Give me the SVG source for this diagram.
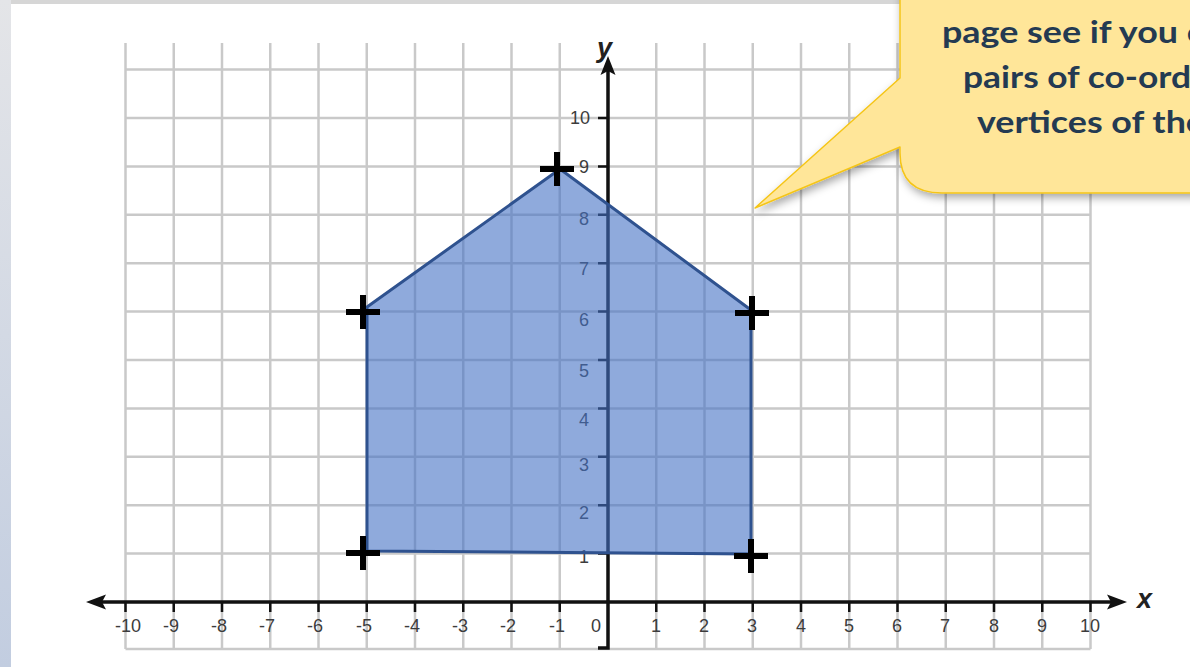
<svg xmlns="http://www.w3.org/2000/svg" width="1190" height="667" viewBox="0 0 1190 667">
<defs>
<style>
.grid{stroke:#c9c9c9;stroke-width:2.5;fill:none}
.axis{stroke:#111;stroke-width:3.5;fill:none}
.tick{stroke:#111;stroke-width:2.5}
.lbl{font-family:"Liberation Sans",Arial,sans-serif;font-size:18px;fill:#3c3c3c}
.ax{font-family:"Liberation Sans",Arial,sans-serif;font-size:27px;font-style:italic;font-weight:bold;fill:#222}
.cross{stroke:#000;stroke-width:6;fill:none}
.call{font-family:Lato,"Open Sans",sans-serif;font-weight:bold;font-size:31px;fill:#243a52}
</style>
<linearGradient id="strip" x1="0" y1="0" x2="0" y2="1">
<stop offset="0" stop-color="#e4e5e8"/>
<stop offset="1" stop-color="#c2cde0"/>
</linearGradient>
<filter id="sh" x="-20%" y="-20%" width="140%" height="150%">
<feDropShadow dx="2" dy="4" stdDeviation="4" flood-color="#000" flood-opacity="0.35"/>
</filter>
</defs>
<rect width="1190" height="667" fill="#fff"/>
<rect x="0" y="0" width="1190" height="4" fill="#d6d6d6"/>
<rect x="0" y="0" width="11" height="667" fill="url(#strip)"/>

<g id="grid">
<path class="grid" d="M125.5,43V649M173.75,43V649M222,43V649M270.25,43V649M318.5,43V649M366.75,43V649M415,43V649M463.25,43V649M511.5,43V649M559.75,43V649M656.25,43V649M704.5,43V649M752.75,43V649M801,43V649M849.25,43V649M897.5,43V649M945.75,43V649M994,43V649M1042.25,43V649M1090.5,43V649"/>
<path class="grid" d="M125.5,69.6H1090.5M125.5,118H1090.5M125.5,166.4H1090.5M125.5,214.8H1090.5M125.5,263.2H1090.5M125.5,311.6H1090.5M125.5,360H1090.5M125.5,408.4H1090.5M125.5,456.8H1090.5M125.5,505.2H1090.5M125.5,553.6H1090.5M125.5,649H1090.5"/>
</g>

<g id="labels">
<g class="lbl" text-anchor="end">
<text x="141" y="632">-10</text>
<text x="179" y="632">-9</text>
<text x="227" y="632">-8</text>
<text x="275" y="632">-7</text>
<text x="323" y="632">-6</text>
<text x="372" y="632">-5</text>
<text x="420" y="632">-4</text>
<text x="468" y="632">-3</text>
<text x="516" y="632">-2</text>
<text x="565" y="632">-1</text>
</g>
<g class="lbl" text-anchor="middle">
<text x="596" y="632">0</text>
<text x="656" y="632">1</text>
<text x="704" y="632">2</text>
<text x="752" y="632">3</text>
<text x="801" y="632">4</text>
<text x="849" y="632">5</text>
<text x="897" y="632">6</text>
<text x="945" y="632">7</text>
<text x="994" y="632">8</text>
<text x="1042" y="632">9</text>
<text x="1090" y="632">10</text>
</g>
<g class="lbl" text-anchor="end">
<text x="590" y="124">10</text>
<text x="589" y="173">9</text>
<text x="589" y="225">8</text>
<text x="589" y="275">7</text>
<text x="589" y="326">6</text>
<text x="589" y="377">5</text>
<text x="589" y="426">4</text>
<text x="589" y="471">3</text>
<text x="589" y="519">2</text>
<text x="589" y="563">1</text>
</g>
<text class="ax" x="597" y="57">y</text>
<text class="ax" x="1137" y="608">x</text>
</g>

<g id="connectors">
<path class="axis" d="M96,602H1116"/>
<path class="axis" d="M608,68V648H598"/>
<path d="M1127,602L1107,594.5L1111,602L1107,609.5Z" fill="#111"/>
<path d="M86,602L106,594.5L102,602L106,609.5Z" fill="#111"/>
<path d="M608,56L600.5,75L608,71L615.5,75Z" fill="#111"/>
<path class="tick" d="M125.5,602v10M173.75,602v10M222,602v10M270.25,602v10M318.5,602v10M366.75,602v10M415,602v10M463.25,602v10M511.5,602v10M559.75,602v10M656.25,602v10M704.5,602v10M752.75,602v10M801,602v10M849.25,602v10M897.5,602v10M945.75,602v10M994,602v10M1042.25,602v10M1090.5,602v10"/>
<path class="tick" d="M598,118h10M598,166.4h10M598,214.8h10M598,263.2h10M598,311.6h10M598,360h10M598,408.4h10M598,456.8h10M598,505.2h10M598,553.6h10"/>
</g>

<g id="shape">
<polygon points="367,307 560,169 751,310 751,554 367,551" fill="#4472c4" fill-opacity="0.6" stroke="#2f528f" stroke-width="3" stroke-linejoin="round"/>
</g>

<g id="vertices">
<path class="cross" d="M540,169h34M557,152v34"/>
<path class="cross" d="M346,312h34M363,295v34"/>
<path class="cross" d="M735,313h34M752,296v34"/>
<path class="cross" d="M346,553h34M363,536v34"/>
<path class="cross" d="M734,556h34M751,539v34"/>
</g>

<g id="callout">
<path d="M755,208L900,78V-20H1210V193H942Q900,193 900,153V147Z" fill="#ffe699" stroke="#f5c518" stroke-width="1.5" stroke-linejoin="round" filter="url(#sh)"/>
<text class="call" x="942" y="43" textLength="262" lengthAdjust="spacingAndGlyphs">page see if you c</text>
<text class="call" x="963" y="88" textLength="228" lengthAdjust="spacingAndGlyphs">pairs of co-ord</text>
<text class="call" x="977" y="133" textLength="228" lengthAdjust="spacingAndGlyphs">vertices of the</text>
</g>
</svg>
